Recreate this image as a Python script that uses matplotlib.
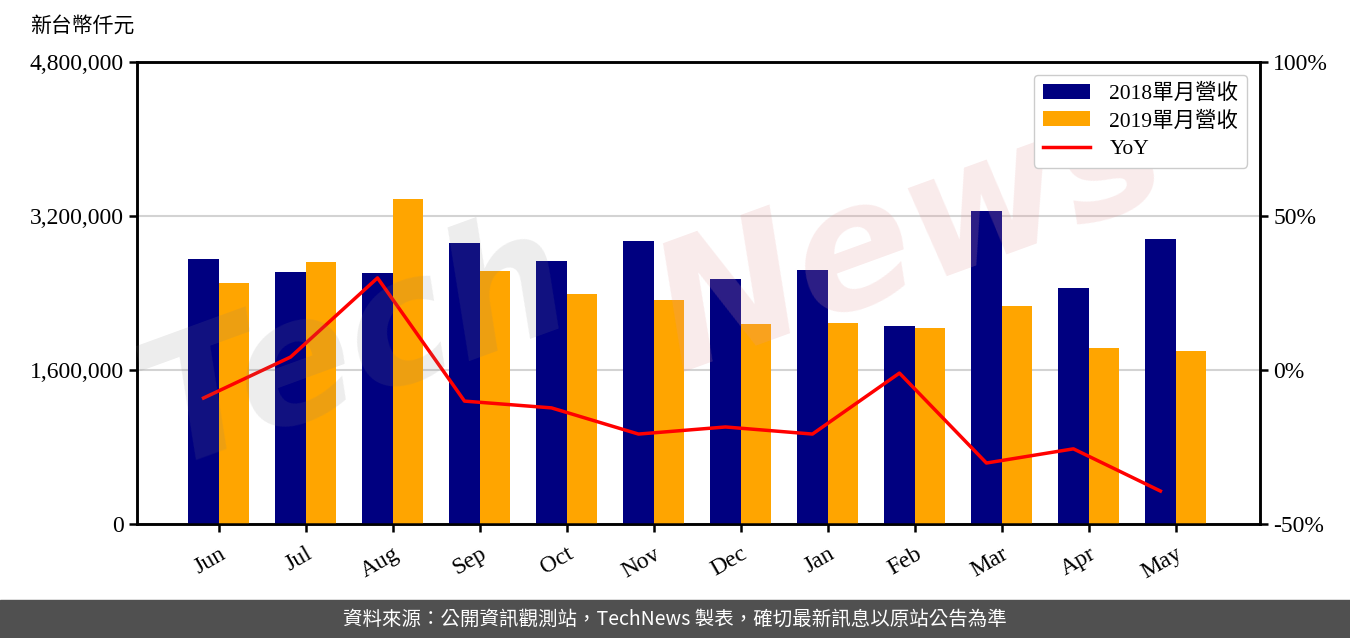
import numpy as np
import matplotlib.pyplot as plt
from matplotlib.ticker import FuncFormatter

plt.rcParams['font.family'] = ['Liberation Serif', 'Noto Sans CJK TC']
plt.rcParams['axes.unicode_minus'] = False

# monthly revenue (NT$ thousand) and YoY (%)
months = ['Jun', 'Jul', 'Aug', 'Sep', 'Oct', 'Nov', 'Dec', 'Jan', 'Feb', 'Mar', 'Apr', 'May']
rev_2018 = [2753000, 2618000, 2608000, 2920000, 2733000, 2940000, 2546000, 2639000, 2057000, 3252000, 2452000, 2961000]
rev_2019 = [2504000, 2722000, 3377000, 2629000, 2390000, 2327000, 2078000, 2088000, 2036000, 2265000, 1829000, 1797000]
yoy = [-9.1, 4.2, 29.9, -10.1, -12.3, -20.8, -18.5, -20.8, -1.0, -30.2, -25.6, -39.3]

x = np.arange(len(months))
w = 0.35

fig = plt.figure(figsize=(13.5, 6.38), dpi=100)
ax = fig.add_axes([137 / 1350, 1 - 524 / 638, (1260 - 137) / 1350, (524 - 62) / 638])
ax2 = ax.twinx()

ax.bar(x - w / 2, rev_2018, w, color='#000080', label='2018單月營收', zorder=3)
ax.bar(x + w / 2, rev_2019, w, color='#ffa500', label='2019單月營收', zorder=3)
ln, = ax2.plot(x - w / 2, yoy, color='red', lw=2.5, label='YoY', zorder=4)

ax.set_ylim(0, 4800000)
ax.set_yticks([0, 1600000, 3200000, 4800000])
ax.yaxis.set_major_formatter(FuncFormatter(lambda v, p: f'{int(v):,}'))
ax.grid(axis='y', color='#d3d3d3', lw=1.5, zorder=0)
ax.set_axisbelow(True)
ax.set_xlim(-0.94, 11.97)
ax.set_xticks(x)
ax.set_xticklabels(months, rotation=30, ha='right', rotation_mode='anchor')

ax2.set_ylim(-50, 100)
ax2.set_yticks([-50, 0, 50, 100])
ax2.yaxis.set_major_formatter(FuncFormatter(lambda v, p: f'{int(v)}%'))

for a in (ax, ax2):
    a.tick_params(labelsize=17, width=1.8, length=6)
    for s in a.spines.values():
        s.set_linewidth(1.8)
ax.tick_params(axis='x', pad=8)

# watermark (under the legend)
ax2.text(0.09, 0.27, 'Tech', transform=fig.transFigure, fontsize=125, fontweight='bold',
         fontstyle='italic', family='DejaVu Sans', color='#808080', alpha=0.14,
         rotation=20, zorder=5)
ax2.text(0.47, 0.42, 'News', transform=fig.transFigure, fontsize=125, fontweight='bold',
         fontstyle='italic', family='DejaVu Sans', color='#e59a9a', alpha=0.2,
         rotation=20, zorder=5)

h1, l1 = ax.get_legend_handles_labels()
leg = ax2.legend(h1 + [ln], l1 + ['YoY'], loc='upper right', fontsize=15.5,
                 frameon=True, fancybox=True, edgecolor='#cccccc', framealpha=1,
                 handlelength=2.2, handletextpad=0.9, borderaxespad=0.6,
                 labelspacing=0.35)
leg.set_zorder(10)

fig.text(30 / 1350, 1 - 27 / 638, '新台幣仟元', fontsize=15, va='center', ha='left')

# footer bar
fig.patches.append(plt.Rectangle((0, 0), 1, 38 / 638, transform=fig.transFigure,
                                 color='#505050', zorder=0))
fig.text(0.5, 19 / 638, '資料來源：公開資訊觀測站，TechNews 製表，確切最新訊息以原站公告為準',
         color='white', fontsize=14, ha='center', va='center',
         family=['Noto Sans CJK TC', 'DejaVu Sans'])

fig.savefig('out.png', dpi=100)
